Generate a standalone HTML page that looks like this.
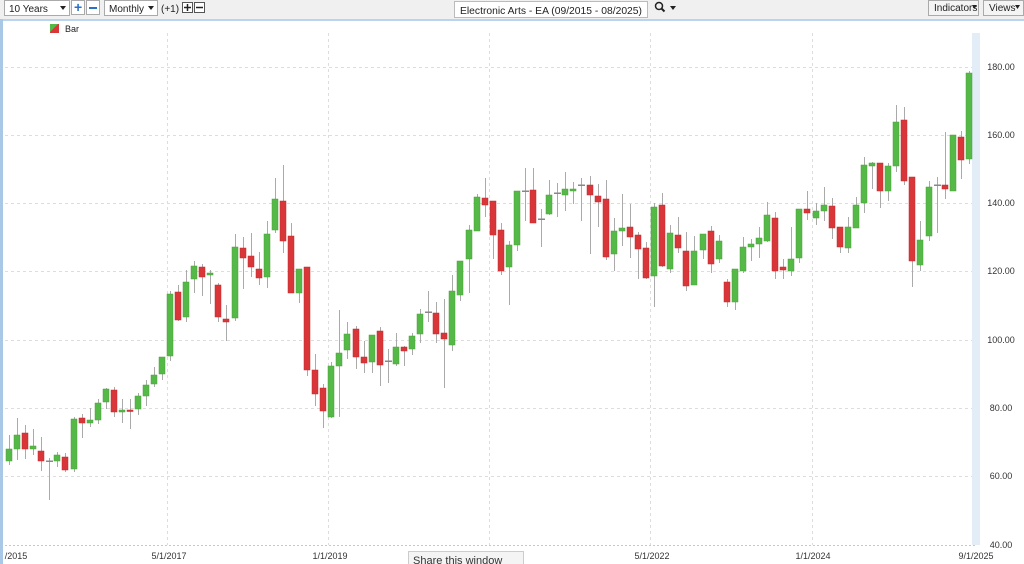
<!DOCTYPE html>
<html><head><meta charset="utf-8"><style>
body{margin:0;width:1024px;height:564px;overflow:hidden;background:#fff;font-family:"Liberation Sans",sans-serif;}
svg{position:absolute;left:0;top:0}
</style></head><body>
<svg width="1024" height="564" viewBox="0 0 1024 564" font-family="Liberation Sans, sans-serif">
<rect x="0" y="0" width="1024" height="19" fill="#f0f0f0"/>
<rect x="0" y="19" width="1024" height="2" fill="#b8d4ee"/>
<rect x="0" y="19" width="3" height="545" fill="#a9c7e6"/>
<g font-size="10" fill="#222">
<rect x="4.5" y="0.5" width="65" height="15" fill="#fff" stroke="#aaa"/><text x="9" y="12">10 Years</text><path d="M60 6h6l-3 4z" fill="#222"/>
<rect x="71.5" y="0.5" width="13" height="14" fill="#fff" stroke="#aaa"/><text x="74" y="12" fill="#2a6fc9" font-size="14" font-weight="bold">+</text>
<rect x="86.5" y="0.5" width="13" height="14" fill="#fff" stroke="#aaa"/><rect x="89" y="7" width="8" height="2" fill="#2a6fc9"/>
<rect x="104.5" y="0.5" width="53" height="15" fill="#fff" stroke="#aaa"/><text x="109" y="12">Monthly</text><path d="M148 6h6l-3 4z" fill="#222"/>
<text x="161" y="12">(+1)</text>
<rect x="182.5" y="2.5" width="10" height="10" fill="#fff" stroke="#555"/><path d="M184 7.5h7M187.5 4v7" stroke="#222" stroke-width="1.5"/>
<rect x="194.5" y="2.5" width="10" height="10" fill="#fff" stroke="#555"/><path d="M196 7.5h7" stroke="#222" stroke-width="1.5"/>
<rect x="454.5" y="1.5" width="193" height="16" fill="#fff" stroke="#bbb"/><text x="460" y="14" font-size="10.5" textLength="182" lengthAdjust="spacingAndGlyphs">Electronic Arts - EA (09/2015 - 08/2025)</text>
<circle cx="659" cy="6" r="3.5" fill="none" stroke="#222" stroke-width="1.5"/><path d="M661.5 8.5l3 3" stroke="#222" stroke-width="2"/><path d="M670 6h6l-3 4z" fill="#222"/>
<rect x="928.5" y="0.5" width="50" height="15" fill="#f4f4f4" stroke="#aaa"/><text x="934" y="11">Indicators</text><path d="M972 5h5l-2.5 4z" fill="#222"/>
<rect x="983.5" y="0.5" width="40" height="15" fill="#f4f4f4" stroke="#aaa"/><text x="989" y="11">Views</text><path d="M1015 5h5l-2.5 4z" fill="#222"/>
</g>
<path d="M50 24h9v9h-9z" fill="#d9363a"/><path d="M50 24h8l-8 8z" fill="#55b947"/>
<text x="65" y="32" font-size="9" fill="#222">Bar</text>
<g stroke="#ddd" stroke-dasharray="3,3" stroke-width="1">
<path d="M5 67.5H975M5 135.5H975M5 203.5H975M5 271.5H975M5 340.5H975M5 408.5H975M5 476.5H975"/>
<path d="M167.5 33V545M328.5 33V545M489.5 33V545M650.5 33V545M812.5 33V545"/>
</g>
<rect x="972" y="33" width="8" height="512" fill="#e3edf8"/>
<path d="M5 545.5H975" stroke="#bcd" stroke-dasharray="2,2"/>
<g fill="#333" font-size="9" text-anchor="middle">
<text x="1001" y="70">180.00</text><text x="1001" y="138">160.00</text><text x="1001" y="206">140.00</text><text x="1001" y="274">120.00</text><text x="1001" y="343">100.00</text><text x="1001" y="411">80.00</text><text x="1001" y="479">60.00</text><text x="1001" y="548">40.00</text>
<text x="16" y="559">/2015</text><text x="169" y="559">5/1/2017</text><text x="330" y="559">1/1/2019</text><text x="652" y="559">5/1/2022</text><text x="813" y="559">1/1/2024</text><text x="976" y="559">9/1/2025</text>
</g>
<rect x="408.5" y="551.5" width="115" height="16" fill="#f4f4f4" stroke="#ccc"/><text x="413" y="564" font-size="11" fill="#333">Share this window</text>
<path fill="none" stroke="#aaa" stroke-width="1" d="M9.5 435V465M17.5 418V460M25.5 425V459M33.5 429V455M41.5 437V471M49.5 458V500M57.5 452V467M65.5 453V472M74.5 417V472M82.5 414V438M90.5 408V427M98.5 399V424M106.5 388V409M114.5 387V417M122.5 399V423M130.5 399V429M138.5 393V415M146.5 380V406M154.5 367V387M162.5 357V380M170.5 291V361M178.5 285V321M186.5 270V322M194.5 261V293M202.5 264V296M210.5 270V304M218.5 283V322M226.5 305V341M235.5 234V321M243.5 237V289M251.5 233V277M259.5 252V285M267.5 221V288M275.5 178V233M283.5 165V253M291.5 223V293M299.5 269V303M307.5 267V376M315.5 354V406M323.5 384V428M331.5 362V418M339.5 310V417M347.5 322V359M356.5 326V369M364.5 341V373M372.5 335V373M380.5 327V386M388.5 349V383M396.5 333V366M404.5 346V366M412.5 333V355M420.5 309V343M428.5 291V322M436.5 302V343M444.5 299V388M452.5 275V351M460.5 261V301M469.5 225V293M477.5 194V231M485.5 178V217M493.5 201V259M501.5 223V275M509.5 241V305M517.5 191V251M525.5 168V221M533.5 168V223M541.5 209V247M549.5 180V215M557.5 183V217M565.5 172V211M573.5 182V204M581.5 178V221M590.5 176V254M598.5 184V227M606.5 180V260M614.5 218V271M622.5 194V246M630.5 204V258M638.5 232V279M646.5 242V279M654.5 203V307M662.5 193V267M670.5 225V273M678.5 217V253M686.5 232V291M694.5 236V285M703.5 234V259M711.5 226V273M719.5 235V263M727.5 279V307M735.5 269V310M743.5 237V273M751.5 239V261M759.5 227V258M767.5 202V242M775.5 212V279M783.5 259V279M791.5 227V276M799.5 209V263M807.5 191V220M816.5 203V225M824.5 187V221M832.5 198V239M840.5 227V253M848.5 217V253M856.5 197V228M864.5 157V213M872.5 162V189M880.5 163V208M888.5 163V201M896.5 105V172M904.5 107V185M912.5 177V287M920.5 221V271M929.5 181V241M937.5 177V233M945.5 132V199M953.5 135V191M961.5 131V179M969.5 71V164"/>
<g fill="#55b947" stroke="#4aa03d" stroke-width="0.5">
<rect x="6" y="449" width="6" height="12"/><rect x="14" y="435" width="6" height="14"/><rect x="30" y="446" width="6" height="3"/><rect x="54" y="455" width="6" height="6"/><rect x="71" y="419" width="6" height="50"/><rect x="87" y="420" width="6" height="3"/><rect x="95" y="403" width="6" height="17"/><rect x="103" y="389" width="6" height="13"/><rect x="119" y="410" width="6" height="2"/><rect x="135" y="396" width="6" height="13"/><rect x="143" y="385" width="6" height="11"/><rect x="151" y="375" width="6" height="9"/><rect x="159" y="357" width="6" height="17"/><rect x="167" y="294" width="6" height="62"/><rect x="183" y="282" width="6" height="35"/><rect x="191" y="266" width="6" height="13"/><rect x="207" y="273" width="6" height="2"/><rect x="232" y="247" width="6" height="71"/><rect x="264" y="234" width="6" height="43"/><rect x="272" y="199" width="6" height="31"/><rect x="296" y="269" width="6" height="24"/><rect x="328" y="366" width="6" height="51"/><rect x="336" y="353" width="6" height="13"/><rect x="344" y="334" width="6" height="16"/><rect x="369" y="335" width="6" height="27"/><rect x="393" y="347" width="6" height="17"/><rect x="409" y="336" width="6" height="13"/><rect x="417" y="314" width="6" height="20"/><rect x="449" y="291" width="6" height="54"/><rect x="457" y="261" width="6" height="34"/><rect x="466" y="230" width="6" height="29"/><rect x="474" y="197" width="6" height="34"/><rect x="506" y="245" width="6" height="22"/><rect x="514" y="191" width="6" height="54"/><rect x="546" y="195" width="6" height="19"/><rect x="562" y="189" width="6" height="6"/><rect x="570" y="189" width="6" height="2"/><rect x="611" y="231" width="6" height="23"/><rect x="619" y="228" width="6" height="3"/><rect x="651" y="207" width="6" height="69"/><rect x="667" y="233" width="6" height="36"/><rect x="691" y="251" width="6" height="34"/><rect x="700" y="234" width="6" height="16"/><rect x="716" y="241" width="6" height="18"/><rect x="732" y="269" width="6" height="33"/><rect x="740" y="247" width="6" height="24"/><rect x="748" y="244" width="6" height="3"/><rect x="756" y="238" width="6" height="6"/><rect x="764" y="215" width="6" height="26"/><rect x="788" y="259" width="6" height="12"/><rect x="796" y="209" width="6" height="49"/><rect x="813" y="211" width="6" height="7"/><rect x="821" y="205" width="6" height="6"/><rect x="845" y="227" width="6" height="21"/><rect x="853" y="205" width="6" height="23"/><rect x="861" y="165" width="6" height="38"/><rect x="869" y="163" width="6" height="3"/><rect x="885" y="166" width="6" height="25"/><rect x="893" y="122" width="6" height="44"/><rect x="917" y="240" width="6" height="25"/><rect x="926" y="187" width="6" height="49"/><rect x="950" y="135" width="6" height="56"/><rect x="966" y="73" width="6" height="86"/>
</g>
<g fill="#d9363a" stroke="#c02a2e" stroke-width="0.5">
<rect x="22" y="433" width="6" height="16"/><rect x="38" y="451" width="6" height="10"/><rect x="62" y="457" width="6" height="13"/><rect x="79" y="418" width="6" height="5"/><rect x="111" y="390" width="6" height="22"/><rect x="127" y="410" width="6" height="1.5"/><rect x="175" y="292" width="6" height="28"/><rect x="199" y="267" width="6" height="10"/><rect x="215" y="285" width="6" height="32"/><rect x="223" y="319" width="6" height="3"/><rect x="240" y="248" width="6" height="10"/><rect x="248" y="256" width="6" height="11"/><rect x="256" y="269" width="6" height="9"/><rect x="280" y="201" width="6" height="40"/><rect x="288" y="236" width="6" height="57"/><rect x="304" y="267" width="6" height="103"/><rect x="312" y="370" width="6" height="24"/><rect x="320" y="388" width="6" height="23"/><rect x="353" y="329" width="6" height="28"/><rect x="361" y="357" width="6" height="6"/><rect x="377" y="331" width="6" height="34"/><rect x="401" y="347" width="6" height="4"/><rect x="433" y="313" width="6" height="21"/><rect x="441" y="333" width="6" height="6"/><rect x="482" y="198" width="6" height="7"/><rect x="490" y="201" width="6" height="34"/><rect x="498" y="230" width="6" height="41"/><rect x="530" y="190" width="6" height="33"/><rect x="587" y="185" width="6" height="10"/><rect x="595" y="196" width="6" height="6"/><rect x="603" y="199" width="6" height="58"/><rect x="627" y="227" width="6" height="10"/><rect x="635" y="235" width="6" height="14"/><rect x="643" y="248" width="6" height="30"/><rect x="659" y="205" width="6" height="61"/><rect x="675" y="235" width="6" height="13"/><rect x="683" y="251" width="6" height="35"/><rect x="708" y="231" width="6" height="33"/><rect x="724" y="282" width="6" height="20"/><rect x="772" y="218" width="6" height="53"/><rect x="780" y="267" width="6" height="3"/><rect x="804" y="209" width="6" height="4"/><rect x="829" y="206" width="6" height="22"/><rect x="837" y="227" width="6" height="20"/><rect x="877" y="163" width="6" height="28"/><rect x="901" y="120" width="6" height="61"/><rect x="909" y="177" width="6" height="84"/><rect x="942" y="185" width="6" height="4"/><rect x="958" y="137" width="6" height="23"/>
</g>
<g fill="#888">
<rect x="46" y="460.5" width="7" height="1.5"/><rect x="385" y="360.5" width="7" height="1.5"/><rect x="425" y="311.5" width="7" height="1.5"/><rect x="522" y="190.5" width="7" height="1.5"/><rect x="538" y="218.5" width="7" height="1.5"/><rect x="554" y="192.5" width="7" height="1.5"/><rect x="578" y="184.5" width="7" height="1.5"/><rect x="934" y="184.5" width="7" height="1.5"/>
</g>
</svg>
</body></html>
